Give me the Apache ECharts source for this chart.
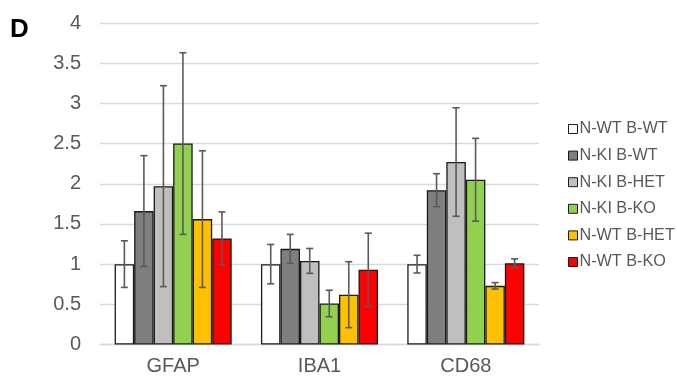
<!DOCTYPE html>
<html>
<head>
<meta charset="utf-8">
<script src="https://cdn.jsdelivr.net/npm/echarts@6/dist/echarts.min.js"></script>
<style>
  html, body { margin: 0; padding: 0; background: #fff; }
  #chart { width: 677px; height: 383px; }
</style>
</head>
<body>
<div id="chart"></div>
<script>
// Markers along the x axis
const categories = ['GFAP', 'IBA1', 'CD68'];

// Group names (legend order)
const groupNames = ['N-WT B-WT', 'N-KI B-WT', 'N-KI B-HET', 'N-KI B-KO', 'N-WT B-HET', 'N-WT B-KO'];
const groupColors = ['#FFFFFF', '#7F7F7F', '#BFBFBF', '#92D050', '#FFC000', '#FF0000'];

// Mean relative expression per group (GFAP, IBA1, CD68)
const meanNWTBWT  = [1.00, 1.00, 1.00];
const meanNKIBWT  = [1.66, 1.19, 1.92];
const meanNKIBHET = [1.97, 1.04, 2.27];
const meanNKIBKO  = [2.50, 0.51, 2.05];
const meanNWTBHET = [1.56, 0.62, 0.73];
const meanNWTBKO  = [1.32, 0.93, 1.01];

// Error bar half-lengths per group (GFAP, IBA1, CD68)
const errNWTBWT  = [0.29, 0.245, 0.11];
const errNKIBWT  = [0.69, 0.18, 0.205];
const errNKIBHET = [1.25, 0.155, 0.675];
const errNKIBKO  = [1.13, 0.165, 0.515];
const errNWTBHET = [0.85, 0.41, 0.04];
const errNWTBKO  = [0.33, 0.455, 0.055];

// Y axis ticks
const yMin = 0, yMax = 4, yStep = 0.5;

const means = [meanNWTBWT, meanNKIBWT, meanNKIBHET, meanNKIBKO, meanNWTBHET, meanNWTBKO];
const errs  = [errNWTBWT, errNKIBWT, errNKIBHET, errNKIBKO, errNWTBHET, errNWTBKO];

const GAP = 0.2; // barCategoryGap as a fraction
const nGroups = groupNames.length;

const barSeries = groupNames.map((name, i) => ({
  name: name,
  type: 'bar',
  barGap: '0%',
  barCategoryGap: (GAP * 100) + '%',
  data: means[i],
  itemStyle: { color: groupColors[i], borderColor: '#1a1a1a', borderWidth: 1.3 },
  z: 2
}));

const errSeries = groupNames.map((name, i) => ({
  name: 'err ' + name,
  type: 'custom',
  z: 5,
  silent: true,
  data: categories.map((c, k) => [k, means[i][k] - errs[i][k], means[i][k] + errs[i][k]]),
  renderItem: function (params, api) {
    const k = api.value(0);
    const band = api.size([1, 0])[0];
    const barW = band * (1 - GAP) / nGroups;
    const cx = api.coord([k, 0])[0] - band * (1 - GAP) / 2 + barW * (i + 0.5);
    const yLo = api.coord([k, api.value(1)])[1];
    const yHi = api.coord([k, api.value(2)])[1];
    const cap = 3.5;
    const style = { stroke: '#5a5a5a', lineWidth: 1.6 };
    return {
      type: 'group',
      children: [
        { type: 'line', shape: { x1: cx, y1: yLo, x2: cx, y2: yHi }, style: style },
        { type: 'line', shape: { x1: cx - cap, y1: yHi, x2: cx + cap, y2: yHi }, style: style },
        { type: 'line', shape: { x1: cx - cap, y1: yLo, x2: cx + cap, y2: yLo }, style: style }
      ]
    };
  }
}));

const chart = echarts.init(document.getElementById('chart'), null, { renderer: 'canvas' });
chart.setOption({
  animation: false,
  backgroundColor: '#ffffff',
  textStyle: { fontFamily: 'Liberation Sans, Arial, sans-serif' },
  title: {
    text: 'D',
    left: 5,
    top: 12,
    textStyle: { fontSize: 26, fontWeight: 'bold', color: '#000', fontFamily: 'Liberation Sans, Arial, sans-serif' }
  },
  grid: { left: 100, right: 138, top: 23, bottom: 38.5 },
  legend: {
    data: groupNames,
    orient: 'vertical',
    left: 563,
    top: 116,
    icon: 'rect',
    itemWidth: 9,
    itemHeight: 9,
    itemGap: 10.6,
    itemStyle: { borderColor: '#1a1a1a', borderWidth: 1 },
    textStyle: { fontSize: 16.2, color: '#595959', fontFamily: 'Liberation Sans, Arial, sans-serif', padding: [0, 0, 0, -3] }
  },
  xAxis: {
    type: 'category',
    data: categories,
    axisTick: { show: false },
    axisLine: { lineStyle: { color: '#D9D9D9', width: 1.3 } },
    axisLabel: { fontSize: 20, color: '#595959', margin: 12, fontFamily: 'Liberation Sans, Arial, sans-serif' }
  },
  yAxis: {
    type: 'value',
    min: yMin,
    max: yMax,
    interval: yStep,
    axisLine: { show: false },
    axisTick: { show: false },
    splitLine: { lineStyle: { color: '#D9D9D9', width: 1.3 } },
    axisLabel: { fontSize: 20, color: '#595959', margin: 19, fontFamily: 'Liberation Sans, Arial, sans-serif' }
  },
  series: barSeries.concat(errSeries)
});
</script>
</body>
</html>
